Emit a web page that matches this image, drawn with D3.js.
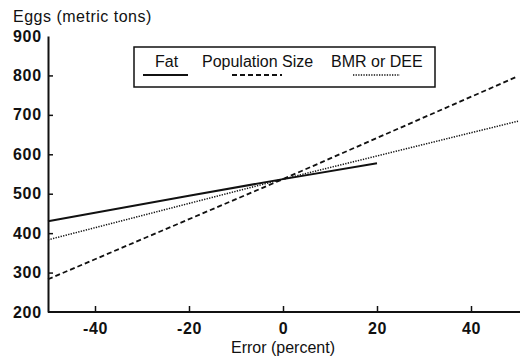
<!DOCTYPE html>
<html lang="en">
<head>
    <meta charset="UTF-8">
    <title>Eggs vs Error</title>
    <script src="https://d3js.org/d3.v7.min.js"></script>
    <style>
        body { margin: 0; background: #fff; }
        text { font-family: "Liberation Sans", Arial, sans-serif; fill: #111; }
    </style>
</head>
<body>
<div id="chart"></div>

<script>
    // data
    var xTicks = [-40, -20, 0, 20, 40];
    var yTicks = [200, 300, 400, 500, 600, 700, 800, 900];

    var fatX = [-50, -20, 0, 20];
    var fatY = [430, 495, 537, 577];

    var popX = [-50, 0, 50];
    var popY = [283, 537, 798];

    var bmrX = [-50, 0, 50];
    var bmrY = [383, 537, 684];

    var seriesNames = ["Fat", "Population Size", "BMR or DEE"];

    var w = 527;
    var h = 360;
    var margin = {top: 36, right: 9, bottom: 48, left: 48};

    var svg = d3.select("#chart")
                .append("svg")
                .attr("width", w)
                .attr("height", h);

    var x = d3.scaleLinear()
              .domain([-50, 50])
              .range([margin.left, w - margin.right]);

    var y = d3.scaleLinear()
              .domain([200, 900])
              .range([h - margin.bottom, margin.top]);

    // x axis, ticks point up
    var xAxis = d3.axisBottom(x)
                  .tickValues(xTicks)
                  .tickFormat(function(d) { return String(d); })
                  .tickSizeInner(-6)
                  .tickSizeOuter(0)
                  .tickPadding(11);

    var gx = svg.append("g")
                .attr("transform", "translate(0," + (h - margin.bottom) + ")")
                .call(xAxis);
    gx.select(".domain").attr("stroke", "#111").attr("stroke-width", 2)
      .attr("d", "M" + margin.left + ",0H" + (w - 7));
    gx.selectAll(".tick line").attr("stroke", "#111").attr("stroke-width", 1.5);
    gx.selectAll(".tick text").attr("font-size", 16).attr("font-weight", "bold")
      .attr("letter-spacing", 0.6).attr("fill", "#111");

    // y axis, ticks point right
    var yAxis = d3.axisLeft(y)
                  .tickValues(yTicks)
                  .tickSizeInner(-5)
                  .tickSizeOuter(0)
                  .tickPadding(6);

    var gy = svg.append("g")
                .attr("transform", "translate(" + margin.left + ",0)")
                .call(yAxis);
    gy.select(".domain").attr("stroke", "#111").attr("stroke-width", 2);
    gy.selectAll(".tick line").attr("stroke", "#111").attr("stroke-width", 1.5)
      .attr("display", function(d) { return (d == 200 || d == 900) ? "none" : null; });
    gy.selectAll(".tick text").attr("font-size", 16).attr("font-weight", "bold")
      .attr("letter-spacing", 0.8).attr("fill", "#111");

    svg.append("text")
       .attr("x", 13)
       .attr("y", 22)
       .attr("font-size", 16)
       .attr("letter-spacing", 0.5)
       .text("Eggs (metric tons)");

    svg.append("text")
       .attr("x", x(0))
       .attr("y", 353)
       .attr("text-anchor", "middle")
       .attr("font-size", 16)
       .text("Error (percent)");

    // lines
    var line = d3.line()
                 .x(function(d) { return x(d[0]); })
                 .y(function(d) { return y(d[1]); });

    var styles = [
        {width: 2, dash: null},
        {width: 1.8, dash: "5,3"},
        {width: 1.5, dash: "1.3,1.3"}
    ];

    var series = [d3.zip(fatX, fatY), d3.zip(popX, popY), d3.zip(bmrX, bmrY)];

    svg.selectAll("path.series")
       .data(series)
       .enter()
       .append("path")
       .attr("class", "series")
       .attr("fill", "none")
       .attr("stroke", "#111")
       .attr("stroke-width", function(d, i) { return styles[i].width; })
       .attr("stroke-dasharray", function(d, i) { return styles[i].dash; })
       .attr("d", line);

    // legend
    var legend = svg.append("g");
    legend.append("rect")
          .attr("x", 134)
          .attr("y", 47)
          .attr("width", 301)
          .attr("height", 40)
          .attr("fill", "#fff")
          .attr("stroke", "#111")
          .attr("stroke-width", 1.5);

    var legendText = [155, 202, 331];
    var legendLine = [[143, 188], [232, 282], [353, 400]];

    seriesNames.forEach(function(name, i) {
        legend.append("text")
              .attr("x", legendText[i])
              .attr("y", 67)
              .attr("font-size", 16)
              .text(name);
        legend.append("line")
              .attr("x1", legendLine[i][0])
              .attr("x2", legendLine[i][1])
              .attr("y1", 75)
              .attr("y2", 75)
              .attr("stroke", "#111")
              .attr("stroke-width", styles[i].width)
              .attr("stroke-dasharray", styles[i].dash);
    });
</script>
</body>
</html>
